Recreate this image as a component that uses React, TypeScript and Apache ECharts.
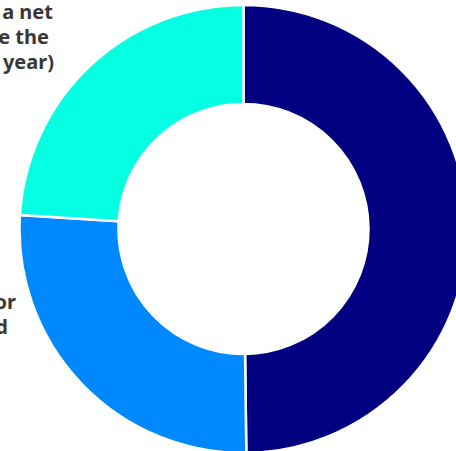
import React, { useEffect, useRef } from "react";
import * as echarts from "echarts";

const categories = ["Navy group", "Blue group", "Cyan group"];
const values = [49.8, 26.2, 24.0];
const colors = ["#000080", "#0088ff", "#05ffe3"];

// Visible (cropped) label fragments, line by line
const cyanLabelLines = ["a net", "e the", "year)"];
const blueLabelLines = ["or", "d"];

export default function App() {
  const ref = useRef<HTMLDivElement>(null);
  useEffect(() => {
    const chart = echarts.init(ref.current!, null, { renderer: "svg" });
    const textEl = (t: string, x: number, y: number) => ({
      type: "text",
      x,
      y,
      z: 10,
      style: {
        text: t,
        fill: "#383838",
        font: "bold 20px 'Noto Sans'",
        textAlign: "right",
        textVerticalAlign: "middle",
      },
    });
    const cyanRight = [53, 49, 54];
    const blueRight = [16, 8];
    const graphics: any[] = [];
    cyanLabelLines.forEach((t, i) => graphics.push(textEl(t, cyanRight[i], 11 + i * 25)));
    blueLabelLines.forEach((t, i) => graphics.push(textEl(t, blueRight[i], 301 + i * 25)));
    chart.setOption({
      animation: false,
      graphic: graphics,
      series: [
        {
          type: "pie",
          center: [243.5, 229],
          radius: [125, 224],
          startAngle: 90,
          clockwise: true,
          label: { show: false },
          labelLine: { show: false },
          itemStyle: { borderColor: "#ffffff", borderWidth: 2.5 },
          data: categories.map((name, i) => ({
            name,
            value: values[i],
            itemStyle: { color: colors[i] },
          })),
        },
      ],
    });
    return () => chart.dispose();
  }, []);
  return (
    <div
      ref={ref}
      style={{ position: "absolute", left: 0, top: 0, width: 456, height: 451 }}
    />
  );
}
